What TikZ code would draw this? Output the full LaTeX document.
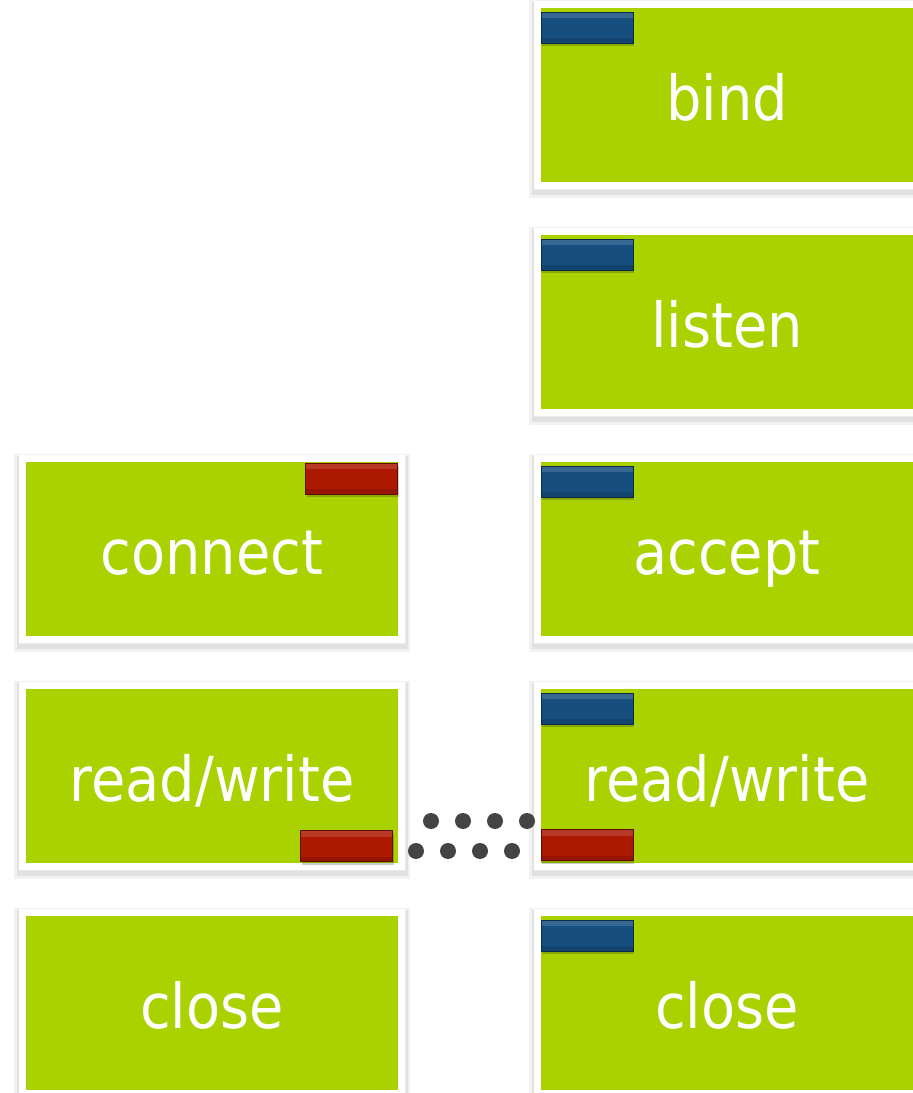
\documentclass[tikz,border=0pt]{standalone}
\usepackage{fontspec}
\newfontfamily\callfont{DejaVu Sans Condensed}
\usetikzlibrary{positioning}

\definecolor{callgreen}{RGB}{170,210,0}
\definecolor{tabblue}{RGB}{22,78,128}
\definecolor{tabred}{RGB}{172,24,0}
\definecolor{dotgray}{RGB}{68,68,68}

\tikzset{
  call/.style={
    minimum width=372pt, minimum height=174pt, inner sep=0pt,
    fill=callgreen, text=white, text height=51pt, text depth=0pt,
    font=\callfont\fontsize{62}{62}\selectfont,
    preaction={draw=black, opacity=0.05, line width=24pt, transform canvas={yshift=-4pt}},
    preaction={draw=black, opacity=0.07, line width=19pt, transform canvas={yshift=-3pt}},
    preaction={draw=black!8, line width=15pt},
    preaction={draw=white, line width=14pt}
  },
  tab/.style={
    minimum width=92pt, minimum height=31pt, inner sep=0pt,
    fill=#1, draw=#1!55!black, line width=0.8pt,
    preaction={fill=black, opacity=0.2, transform canvas={xshift=1pt, yshift=-3pt}},
    path picture={
      \fill[white, opacity=0.15] (path picture bounding box.north west)
        rectangle ([yshift=-6pt]path picture bounding box.north east);
      \fill[black, opacity=0.12] (path picture bounding box.south west)
        rectangle ([yshift=5pt]path picture bounding box.south east);
    }
  },
  dot/.style={fill=dotgray}
}

\begin{document}
\begin{tikzpicture}[x=1pt, y=-1pt]
    % Picture frame
    \useasboundingbox (0,0) rectangle (913,1093);
    \clip (0,0) rectangle (913,1093);

    % Server side calls
    \node[call] (bind)   at (727,95)   {bind};
    \node[call] (listen) at (727,322)  {listen};
    \node[call] (accept) at (727,549)  {accept};
    \node[call] (srvrw)  at (727,776)  {read/write};
    \node[call] (srvcl)  at (727,1003) {close};

    % Client side calls
    \node[call] (connect) at (212,549)  {connect};
    \node[call] (clirw)   at (212,776)  {read/write};
    \node[call] (clicl)   at (212,1003) {close};

    % Blue tabs on the server side
    \foreach \n in {bind,listen,accept,srvrw,srvcl}
        \node[tab=tabblue, anchor=north west] (\n tab) at ([yshift=-4pt]\n.north west) {};

    % Red tabs
    \node[tab=tabred, anchor=north east] (conntab) at ([yshift=-1pt]connect.north east) {};
    \node[tab=tabred, anchor=south east] (clirwtab) at ([xshift=-5pt, yshift=1pt]clirw.south east) {};
    \node[tab=tabred, anchor=south west] (srvrwtab) at ([yshift=2pt]srvrw.south west) {};

    % Dots between the two read/write
    \foreach \x in {431,463,495,527}
        \fill[dot] (\x,821) circle (8pt);
    \foreach \x in {416,448,480,512}
        \fill[dot] (\x,851) circle (8pt);
\end{tikzpicture}
\end{document}
